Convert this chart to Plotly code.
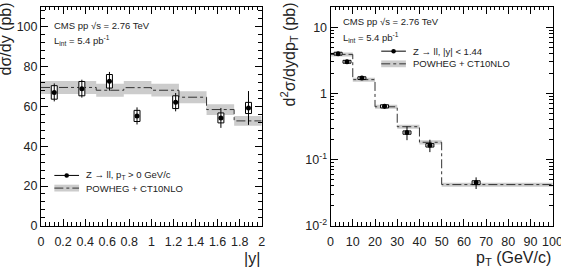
import plotly.graph_objects as go

# ---------------- data: left panel (dsigma/dy vs |y|) ----------------
y_centers = [0.12, 0.37, 0.62, 0.87, 1.22, 1.63, 1.88]
dsdy = [67.0, 68.9, 72.6, 55.2, 62.1, 54.2, 59.2]
dsdy_stat = [4.5, 4.5, 4.7, 4.3, 4.6, 5.0, 8.5]
dsdy_sys = [3.4, 3.6, 3.4, 2.8, 3.2, 2.5, 2.8]
y_edges = [0, 0.25, 0.5, 0.75, 1.0, 1.25, 1.5, 1.75, 2.0]
powheg_y = [69.5, 69.5, 68.1, 69.4, 68.1, 64.6, 58.4, 52.7]
powheg_y_unc = [3.3, 3.3, 3.3, 3.3, 3.2, 3.0, 2.7, 2.4]

# ---------------- data: right panel (d2sigma/dydpT vs pT) ----------------
pt_centers = [3.4, 7.4, 14.1, 24.3, 34.4, 44.7, 65.5]
d2s = [4.0, 3.02, 1.71, 0.64, 0.257, 0.165, 0.045]
d2s_stat = [0.25, 0.2, 0.1, 0.05, 0.06, 0.035, 0.009]
d2s_sys = [0.2, 0.15, 0.08, 0.035, 0.015, 0.01, 0.003]
pt_edges = [0, 10, 20, 30, 40, 50, 100]
powheg_pt = [3.9, 1.62, 0.63, 0.315, 0.183, 0.042]
powheg_pt_rel = [0.07, 0.07, 0.07, 0.07, 0.07, 0.07]

W, H = 561, 276
FONT = "Liberation Sans, Arial, Helvetica, sans-serif"
BAND = "#cccccc"

def px(x):
    return x / W

def py(y):
    return 1 - y / H

fig = go.Figure()

def add_panel(xa, ya, centers, vals, stat, sys, edges, th, th_lo, th_hi, box_hw):
    # theory band
    fig.add_trace(go.Scatter(x=edges, y=th_hi + [th_hi[-1]], mode="lines", line=dict(width=0, shape="hv"),
                             xaxis=xa, yaxis=ya, showlegend=False, hoverinfo="skip"))
    fig.add_trace(go.Scatter(x=edges, y=th_lo + [th_lo[-1]], mode="lines", line=dict(width=0, shape="hv"),
                             fill="tonexty", fillcolor=BAND, xaxis=xa, yaxis=ya, showlegend=False, hoverinfo="skip"))
    # theory line
    fig.add_trace(go.Scatter(x=edges, y=th + [th[-1]], mode="lines",
                             line=dict(color="#333333", width=1, dash="dashdot", shape="hv"),
                             xaxis=xa, yaxis=ya, showlegend=False))
    # systematic boxes
    bx, by = [], []
    for c, v, s in zip(centers, vals, sys):
        bx += [c - box_hw, c + box_hw, c + box_hw, c - box_hw, c - box_hw, None]
        by += [v - s, v - s, v + s, v + s, v - s, None]
    fig.add_trace(go.Scatter(x=bx, y=by, mode="lines", fill="toself", fillcolor="white",
                             line=dict(color="black", width=1), xaxis=xa, yaxis=ya, showlegend=False))
    # data points
    fig.add_trace(go.Scatter(x=centers, y=vals, mode="markers",
                             marker=dict(color="black", size=5, symbol="circle"),
                             error_y=dict(type="data", array=stat, color="black", thickness=1, width=0),
                             xaxis=xa, yaxis=ya, showlegend=False))

add_panel("x", "y", y_centers, dsdy, dsdy_stat, dsdy_sys, y_edges, powheg_y,
          [v - u for v, u in zip(powheg_y, powheg_y_unc)],
          [v + u for v, u in zip(powheg_y, powheg_y_unc)], 0.027)
add_panel("x2", "y2", pt_centers, d2s, d2s_stat, d2s_sys, pt_edges, powheg_pt,
          [v * (1 - r) for v, r in zip(powheg_pt, powheg_pt_rel)],
          [v * (1 + r) for v, r in zip(powheg_pt, powheg_pt_rel)], 1.8)

TICKFONT = dict(family=FONT, size=12.5, color="#222")
common = dict(showline=True, linecolor="black", linewidth=1, mirror="allticks", ticks="inside",
              ticklen=7, tickwidth=1, tickcolor="black", showgrid=False, zeroline=False,
              tickfont=TICKFONT)
ydom = [(H - 231.7) / H, (H - 7) / H]

fig.update_layout(
    width=W, height=H, margin=dict(l=0, r=0, t=0, b=0),
    paper_bgcolor="white", plot_bgcolor="white", showlegend=False,
    xaxis=dict(domain=[px(38.5), px(262)], range=[0, 2], dtick=0.2, tick0=0, ticklabelstandoff=4,
               minor=dict(ticks="inside", ticklen=3.5, tickcolor="black", dtick=0.04, showgrid=False),
               anchor="y", **common),
    yaxis=dict(domain=ydom, range=[0, 110], dtick=20, tick0=0,
               minor=dict(ticks="inside", ticklen=3.5, tickcolor="black", dtick=4, showgrid=False),
               anchor="x", **common),
    xaxis2=dict(domain=[px(331.7), px(556.7)], range=[0, 100], dtick=10, tick0=0, ticklabelstandoff=4,
                minor=dict(ticks="inside", ticklen=3.5, tickcolor="black", dtick=2, showgrid=False),
                anchor="y2", **common),
    yaxis2=dict(domain=ydom, type="log", range=[-2, 1.31],
                tickvals=[0.01, 0.1, 1, 10],
                ticktext=["10<sup>-2</sup>", "10<sup>-1</sup>", "1", "10"],
                minor=dict(ticks="inside", ticklen=3.5, tickcolor="black", dtick="D1", showgrid=False),
                anchor="x2", **common),
)

ann = []
def text(x, y, s, size=9.5, xanchor="left", yanchor="middle", angle=0, xref="paper", xval=None):
    ann.append(dict(x=px(x) if xval is None else xval, y=py(y), xref=xref, yref="paper", text=s, showarrow=False,
                    xanchor=xanchor, yanchor=yanchor, textangle=angle,
                    font=dict(family=FONT, size=size, color="#222")))

# last pT tick label (cut by the right edge of the picture, as in the reference)
text(0, 248, "100", size=12.5, xanchor="center", xref="x2", xval=100)

# axis titles
text(262, 265, "|y|", size=16, xanchor="right")
text(557, 265, "p<sub>T</sub> (GeV/c)", size=16, xanchor="right")
text(3, 0, "dσ/dy (pb)", size=16, xanchor="center", yanchor="top", angle=-90)
text(290, 0, "d<sup>2</sup>σ/dydp<sub>T</sub> (pb)", size=16, xanchor="center", yanchor="top", angle=-90)

# CMS labels
text(50, 26, "CMS pp √s = 2.76 TeV")
text(50, 42, "L<sub>int</sub> = 5.4 pb<sup>-1</sup>")
text(342, 22, "CMS pp √s = 2.76 TeV")
text(342, 38, "L<sub>int</sub> = 5.4 pb<sup>-1</sup>")

# legends
shapes = []
def legend(x0, y1, label1, label2):
    x1 = x0 + 25
    shapes.append(dict(type="line", xref="paper", yref="paper", x0=px(x0), x1=px(x1), y0=py(y1), y1=py(y1),
                       line=dict(color="black", width=1)))
    shapes.append(dict(type="circle", xref="paper", yref="paper", x0=px((x0 + x1) / 2 - 2.3), x1=px((x0 + x1) / 2 + 2.3),
                       y0=py(y1 - 2.3), y1=py(y1 + 2.3), fillcolor="black", line=dict(color="black", width=0)))
    y2 = y1 + 13
    shapes.append(dict(type="rect", xref="paper", yref="paper", x0=px(x0), x1=px(x1), y0=py(y2 - 3.5), y1=py(y2 + 3.5),
                       fillcolor=BAND, line=dict(width=0)))
    shapes.append(dict(type="line", xref="paper", yref="paper", x0=px(x0), x1=px(x1), y0=py(y2), y1=py(y2),
                       line=dict(color="#333333", width=1, dash="dashdot")))
    text(x1 + 5, y1, label1)
    text(x1 + 5, y2, label2)

legend(52, 180, "Z → ll, p<sub>T</sub> &gt; 0 GeV/c", "POWHEG + CT10NLO")
legend(383, 52.5, "Z → ll, |y| &lt; 1.44", "POWHEG + CT10NLO")

fig.update_layout(annotations=ann, shapes=shapes)
fig.write_html("out.html")
